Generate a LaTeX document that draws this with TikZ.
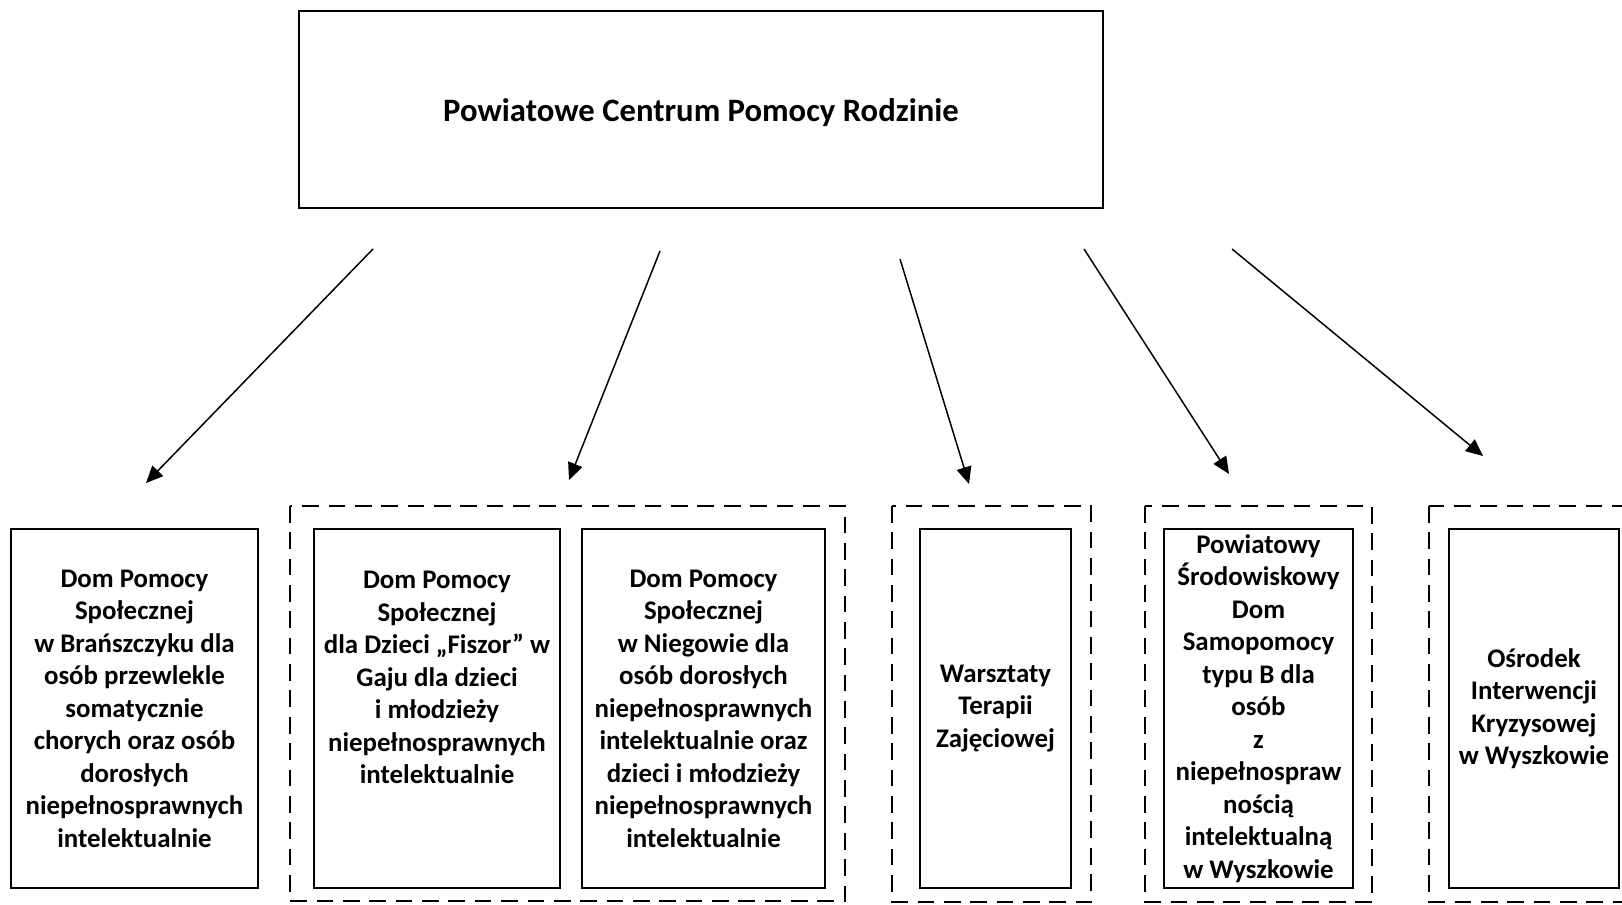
\documentclass[tikz,border=0pt]{standalone}
\usepackage{fontspec}
\setmainfont{Carlito}
\usetikzlibrary{arrows.meta}
\tikzset{
  unit/.style={box/.style={draw, line width=1.1pt, inner sep=0pt, align=center}},
  txt/.style={align=center, inner sep=0pt},
  grp/.style={line width=1.4pt, dash pattern=on 9.5pt off 5.5pt},
  link/.style={->, line width=0.85pt}
}
\begin{document}
\begin{tikzpicture}[x=0.02cm, y=-0.02cm, >={Triangle[length=0.34cm, width=0.3cm]},
  font=\fontsize{15.3}{18.5}\selectfont\bfseries, unit]
		\useasboundingbox (0,0) rectangle (1622,905);
		\clip (0,0) rectangle (1622,905);
		% top
		\node[box, minimum width=16.08cm, minimum height=3.94cm] (pcpr) at (701,109.5) {};
		\node[txt, font=\fontsize{18.6}{22}\selectfont\bfseries] (pcprt) at (701,113) {Powiatowe Centrum Pomocy Rodzinie};
		% bottom row
		\node[box, minimum width=4.94cm, minimum height=7.18cm] (dpsb) at (134.5,708.5) {Dom Pomocy\\Społecznej\\w Brańszczyku dla\\osób przewlekle\\somatycznie\\chorych oraz osób\\dorosłych\\niepełnosprawnych\\intelektualnie};
		\node[box, minimum width=4.92cm, minimum height=7.18cm] (dpsg) at (437,708.5) {};
		\node[txt] (dpsgt) at (437,677.5) {Dom Pomocy\\Społecznej\\dla Dzieci „Fiszor” w\\Gaju dla dzieci\\i młodzieży\\niepełnosprawnych\\intelektualnie};
		\node[box, minimum width=4.86cm, minimum height=7.18cm] (dpsn) at (703.5,708.5) {Dom Pomocy\\Społecznej\\w Niegowie dla\\osób dorosłych\\niepełnosprawnych\\intelektualnie oraz\\dzieci i młodzieży\\niepełnosprawnych\\intelektualnie};
		\node[box, minimum width=3.02cm, minimum height=7.18cm] (wtz) at (995.5,708.5) {Warsztaty\\Terapii\\Zajęciowej};
		\node[box, minimum width=3.78cm, minimum height=7.18cm] (psds) at (1258.5,708.5) {Powiatowy\\Środowiskowy\\Dom\\Samopomocy\\typu B dla\\osób\\z\\niepełnospraw\\nością\\intelektualną\\w Wyszkowie};
		\node[box, minimum width=3.4cm, minimum height=7.18cm] (oik) at (1534,708.5) {Ośrodek\\Interwencji\\Kryzysowej\\w Wyszkowie};
		% dashed groups
		\draw[grp] (290,506) rectangle (845,901);
		\draw[grp] (892,506) rectangle (1091,902);
		\draw[grp] (1145,506) rectangle (1372,902);
		\draw[grp] (1429,506) rectangle (1660,902);
		% arrows
		\coordinate (s1) at (373,249); \coordinate (e1) at (146,483);
		\coordinate (s2) at (660,251); \coordinate (e2) at (569,480);
		\coordinate (s3) at (900,259); \coordinate (e3) at (969,484);
		\coordinate (s4) at (1084,249); \coordinate (e4) at (1229,474);
		\coordinate (s5) at (1232,249); \coordinate (e5) at (1483,456);
		\foreach \i in {1,...,5}
			\draw[link] (s\i) -- (e\i);
		\end{tikzpicture}
\end{document}
